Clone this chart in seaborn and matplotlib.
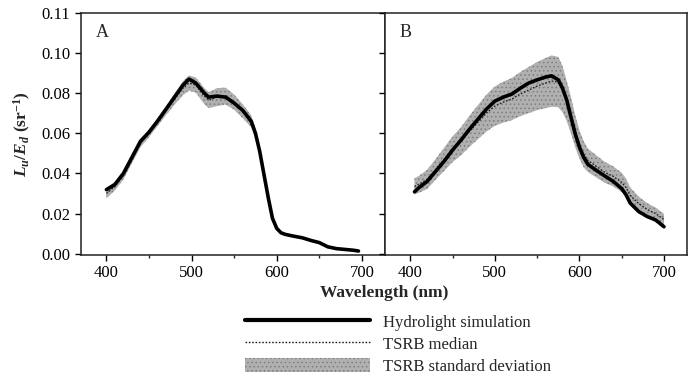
import matplotlib
matplotlib.use("Agg")
import matplotlib.pyplot as plt
import seaborn as sns
import pandas as pd
import numpy as np
from matplotlib.lines import Line2D
from matplotlib.patches import Patch
from matplotlib.ticker import MultipleLocator

# ------------------------------------------------------------------
# Dados (Lu/Ed, sr^-1)
# ------------------------------------------------------------------
wl_a = [400, 410, 420, 430, 440, 450, 460, 470, 480, 490, 497, 505, 515, 520,
        530, 540, 550, 560, 570, 575, 580, 585, 590, 595, 600, 605, 610, 620,
        630, 640, 650, 660, 670, 680, 690, 696]
hydro_a = [0.0319, 0.0345, 0.0400, 0.0480, 0.0560, 0.0605, 0.0660, 0.0720,
           0.0780, 0.0840, 0.0870, 0.0850, 0.0800, 0.0780, 0.0785, 0.0780,
           0.0750, 0.0714, 0.0660, 0.0600, 0.0510, 0.0395, 0.0280, 0.0176,
           0.0126, 0.0104, 0.0096, 0.0087, 0.0079, 0.0066, 0.0055, 0.0034,
           0.0025, 0.0021, 0.0017, 0.0013]
median_a = [0.0300, 0.0335, 0.0390, 0.0470, 0.0550, 0.0600, 0.0655, 0.0712,
            0.0770, 0.0825, 0.0850, 0.0840, 0.0785, 0.0765, 0.0780, 0.0785,
            0.0755, 0.0710, 0.0660, 0.0600, 0.0510, 0.0395, 0.0280, 0.0176,
            0.0126, 0.0104, 0.0096, 0.0087, 0.0079, 0.0066, 0.0055, 0.0034,
            0.0025, 0.0021, 0.0017, 0.0013]
std_a = [0.0025, 0.0020, 0.0020, 0.0020, 0.0020, 0.0020, 0.0020, 0.0022,
         0.0028, 0.0035, 0.0038, 0.0038, 0.0040, 0.0040, 0.0045, 0.0042,
         0.0038, 0.0035, 0.0030, 0.0025, 0.0020, 0.0015, 0.0012, 0.0010,
         0.0008, 0.0006, 0.0005, 0.0004, 0.0003, 0.0003, 0.0003, 0.0002,
         0.0002, 0.0001, 0.0001, 0.0001]

wl_b = [405, 410, 420, 430, 440, 450, 460, 470, 480, 490, 500, 510, 520, 530,
        540, 550, 560, 567, 575, 580, 585, 590, 595, 600, 605, 610, 620, 630,
        640, 650, 655, 660, 670, 680, 690, 700]
hydro_b = [0.0308, 0.0328, 0.0360, 0.0410, 0.0460, 0.0516, 0.0566, 0.0620,
           0.0670, 0.0720, 0.0760, 0.0780, 0.0795, 0.0824, 0.0850, 0.0866,
           0.0880, 0.0886, 0.0866, 0.0824, 0.0765, 0.0680, 0.0597, 0.0530,
           0.0480, 0.0445, 0.0415, 0.0387, 0.0360, 0.0324, 0.0294, 0.0252,
           0.0210, 0.0185, 0.0168, 0.0134]
median_b = [0.0335, 0.0345, 0.0370, 0.0420, 0.0470, 0.0520, 0.0560, 0.0610,
            0.0655, 0.0700, 0.0735, 0.0755, 0.0770, 0.0795, 0.0815, 0.0835,
            0.0850, 0.0860, 0.0855, 0.0820, 0.0760, 0.0690, 0.0610, 0.0545,
            0.0495, 0.0465, 0.0435, 0.0405, 0.0385, 0.0355, 0.0330, 0.0290,
            0.0250, 0.0220, 0.0200, 0.0170]
std_b = [0.0040, 0.0042, 0.0048, 0.0052, 0.0058, 0.0064, 0.0070, 0.0078,
         0.0085, 0.0092, 0.0098, 0.0102, 0.0105, 0.0110, 0.0115, 0.0120,
         0.0125, 0.0128, 0.0125, 0.0115, 0.0100, 0.0090, 0.0080, 0.0070,
         0.0065, 0.0058, 0.0055, 0.0052, 0.0050, 0.0048, 0.0045, 0.0040,
         0.0035, 0.0032, 0.0030, 0.0028]

y_ticks = [0.00, 0.02, 0.04, 0.06, 0.08, 0.10, 0.12]
y_labels = ["0.00", "0.02", "0.04", "0.06", "0.08", "0.10", "0.11"]
x_ticks = [400, 500, 600, 700]
legend_labels = ["Hydrolight simulation", "TSRB median", "TSRB standard deviation"]

# ------------------------------------------------------------------
sns.set_style("ticks")
plt.rcParams["font.family"] = ["Liberation Serif", "DejaVu Serif"]
plt.rcParams["mathtext.fontset"] = "custom"
plt.rcParams["mathtext.it"] = "Liberation Serif:italic:bold"
plt.rcParams["mathtext.rm"] = "Liberation Serif:bold"
plt.rcParams["hatch.linewidth"] = 0.6

fig = plt.figure(figsize=(6.91, 3.77), dpi=100)
ax_a = fig.add_axes([0.117, 0.324, 0.440, 0.642])
ax_b = fig.add_axes([0.557, 0.324, 0.437, 0.642])

band_cor = "#b0b0b0"
band_pontos = "#7e7e7e"
paineis = [
    (ax_a, "A", wl_a, hydro_a, median_a, std_a),
    (ax_b, "B", wl_b, hydro_b, median_b, std_b),
]

for ax, letra, wl, hydro, med, std in paineis:
    med_arr = np.array(med)
    std_arr = np.array(std)
    ax.fill_between(wl, med_arr - std_arr, med_arr + std_arr,
                    facecolor=band_cor, edgecolor=band_pontos, hatch="....",
                    linewidth=0, zorder=1)
    df = pd.DataFrame({"wl": wl, "hydro": hydro, "med": med})
    sns.lineplot(data=df, x="wl", y="med", ax=ax, color="#222222",
                 linestyle=(0, (1.2, 1.2)), linewidth=1.0, zorder=2)
    sns.lineplot(data=df, x="wl", y="hydro", ax=ax, color="black",
                 linewidth=2.6, zorder=3)

    ax.set_xlim(370, 727)
    ax.set_ylim(-0.0006, 0.12)
    ax.set_xticks(x_ticks)
    ax.xaxis.set_minor_locator(MultipleLocator(50))
    ax.set_yticks(y_ticks)
    ax.tick_params(axis="both", which="major", direction="out", length=4,
                   width=1, labelsize=12, colors="black")
    ax.tick_params(axis="x", which="minor", direction="out", length=2.5, width=1)
    ax.set_xlabel("")
    ax.set_ylabel("")
    for s in ax.spines.values():
        s.set_visible(True)
        s.set_linewidth(1.1)
        s.set_color("#222222")
    ax.text(0.05, 0.955, letra, transform=ax.transAxes, fontsize=13,
            ha="left", va="top")

ax_a.set_yticklabels(y_labels)
ax_b.set_yticklabels([])
ax_a.set_ylabel(r"$L_u/E_d$ (sr$^{-1}$)", fontsize=12.5, fontweight="bold",
                labelpad=6)

fig.text(0.556, 0.222, "Wavelength (nm)", ha="center", va="center",
         fontsize=12.5, fontweight="bold")

handles = [
    Line2D([], [], color="black", linewidth=3.0),
    Line2D([], [], color="#222222", linewidth=1.0, linestyle=(0, (1.2, 1.2))),
    Patch(facecolor=band_cor, edgecolor=band_pontos, hatch="....", linewidth=0),
]
fig.legend(handles, legend_labels, loc="upper left",
           bbox_to_anchor=(0.354, 0.167), frameon=False, fontsize=12,
           handlelength=7.5, handleheight=0.9, handletextpad=0.8,
           labelspacing=0.32, borderaxespad=0, borderpad=0)

fig.savefig("out.png", dpi=100)
